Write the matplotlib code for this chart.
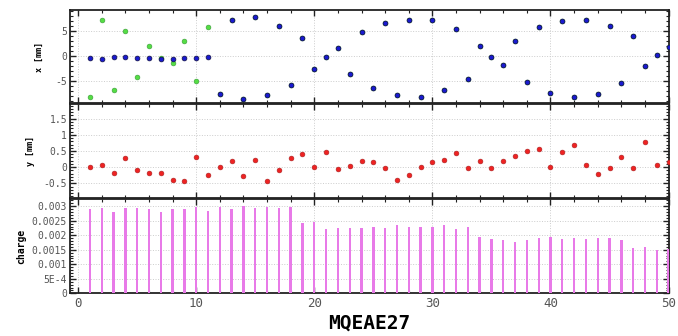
import matplotlib
matplotlib.use("Agg")
import matplotlib.pyplot as plt
from matplotlib.ticker import MultipleLocator, FixedLocator
import numpy as np

# bunch index
idx = np.arange(1, 51)

# x [mm] of the two traces (green only differs for the first 11 bunches)
x_blue = [-0.5, -0.6, -0.2, -0.2, -0.4, -0.5, -0.55, -0.7, -0.4, -0.4,
          -0.3, -7.7, 7.2, -8.6, 7.8, -7.9, 6.1, -5.8, 3.5, -2.7,
          -0.3, 1.6, -3.6, 4.7, -6.5, 6.7, -7.8, 7.3, -8.2, 7.2,
          -6.9, 5.3, -4.6, 1.9, -0.3, -1.9, 3.0, -5.3, 5.9, -7.5,
          7.1, -8.2, 7.3, -7.7, 6.1, -5.4, 3.9, -2.1, 0.1, 1.7]
x_green = [-8.2, 7.2, -6.9, 5.0, -4.3, 1.9, -0.5, -1.5, 2.9, -5.0, 5.7] + x_blue[11:]

y_red = [0.01, 0.07, -0.19, 0.28, -0.09, -0.18, -0.19, -0.41, -0.44, 0.32,
         -0.24, 0.0, 0.19, -0.26, 0.22, -0.44, -0.09, 0.28, 0.40, 0.0,
         0.47, -0.07, 0.05, 0.20, 0.15, -0.04, -0.41, -0.24, 0.0, 0.15,
         0.22, 0.45, -0.02, 0.18, -0.03, 0.20, 0.36, 0.51, 0.57, 0.02,
         0.48, 0.69, 0.07, -0.20, -0.04, 0.32, -0.04, 0.77, 0.08, 0.17]

charge = [0.00290, 0.00292, 0.00280, 0.00292, 0.00293, 0.00290, 0.00280, 0.00289, 0.00289, 0.00297,
          0.00284, 0.00297, 0.00290, 0.00302, 0.00293, 0.00298, 0.00292, 0.00297, 0.00241, 0.00246,
          0.00221, 0.00225, 0.00226, 0.00226, 0.00227, 0.00226, 0.00234, 0.00227, 0.00230, 0.00227,
          0.00234, 0.00222, 0.00227, 0.00193, 0.00188, 0.00185, 0.00177, 0.00185, 0.00190, 0.00195,
          0.00188, 0.00190, 0.00186, 0.00190, 0.00190, 0.00185, 0.00157, 0.00160, 0.00150, 0.00152]

charge_ticks = [0, 0.0005, 0.001, 0.0015, 0.002, 0.0025, 0.003]
charge_labels = ["0", "5E-4", "0.001", "0.0015", "0.002", "0.0025", "0.003"]

plt.rcParams["font.family"] = "DejaVu Sans Mono"

fig = plt.figure(figsize=(6.78, 3.36), dpi=100)
ax1 = fig.add_axes([0.103, 0.693, 0.884, 0.277])
ax2 = fig.add_axes([0.103, 0.411, 0.884, 0.279])
ax3 = fig.add_axes([0.103, 0.127, 0.884, 0.281])

ax1.scatter(idx, x_green, s=12, color="#55dd44", edgecolors="#3a9a3a", linewidths=0.4, zorder=3)
ax1.scatter(idx, x_blue, s=12, color="#1a1ad0", edgecolors="#101040", linewidths=0.5, zorder=4)
ax1.set_ylim(-9.5, 9.2)
ax1.yaxis.set_major_locator(FixedLocator([-5, 0, 5]))
ax1.yaxis.set_minor_locator(MultipleLocator(1))
ax1.set_yticklabels(["-5", "0", "5"])
ax1.set_ylabel("x [mm]", fontsize=6, fontweight="bold", labelpad=8)

ax2.scatter(idx, y_red, s=12, color="#ee2222", edgecolors="#aa2222", linewidths=0.4, zorder=3)
ax2.set_ylim(-0.95, 1.95)
ax2.yaxis.set_major_locator(FixedLocator([-0.5, 0, 0.5, 1, 1.5]))
ax2.yaxis.set_minor_locator(MultipleLocator(0.1))
ax2.set_yticklabels(["-0.5", "0", "0.5", "1", "1.5"])
ax2.set_ylabel("y [mm]", fontsize=6, fontweight="bold", labelpad=6)

ax3.bar(idx, charge, width=0.2, color="#e87ae8", zorder=3)
ax3.set_ylim(0, 0.00325)
ax3.yaxis.set_major_locator(FixedLocator(charge_ticks))
ax3.yaxis.set_minor_locator(MultipleLocator(0.0001))
ax3.set_yticklabels(charge_labels)
ax3.set_ylabel("charge", fontsize=7, fontweight="bold", labelpad=4)
ax3.set_xlabel("MQEAE27", fontsize=14, fontweight="bold", labelpad=2)

for ax in (ax1, ax2, ax3):
    ax.set_xlim(-0.7, 50.05)
    ax.xaxis.set_major_locator(MultipleLocator(10))
    ax.xaxis.set_minor_locator(MultipleLocator(2))
    ax.tick_params(which="both", direction="in", top=True, right=True, color="#222222")
    ax.tick_params(which="major", length=4, width=1.0)
    ax.tick_params(which="minor", length=2, width=0.8)
    ax.tick_params(axis="y", labelsize=7, labelcolor="#555555", pad=2)
    ax.grid(True, which="major", color="#cccccc", linestyle=":", linewidth=0.7, zorder=0)
    for s in ax.spines.values():
        s.set_linewidth(1.3)
        s.set_color("#222222")
    if ax is not ax3:
        ax.tick_params(axis="x", labelbottom=False)
    else:
        ax.tick_params(axis="x", labelsize=9, labelcolor="#555555", pad=3)

fig.savefig("out.png", dpi=100)
